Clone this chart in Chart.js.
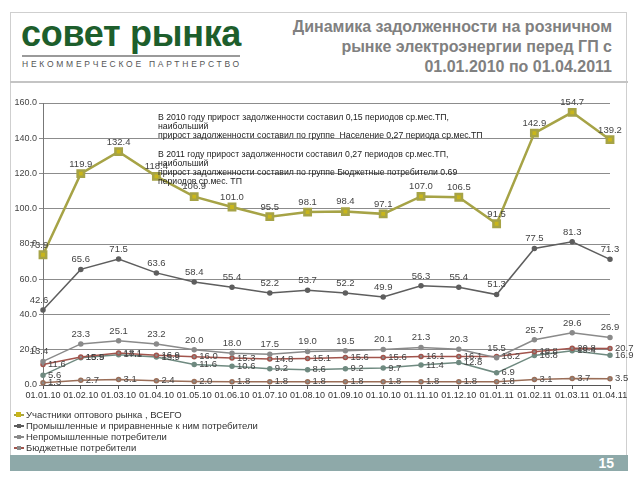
<!DOCTYPE html>
<html><head><meta charset="utf-8">
<script src="https://cdn.jsdelivr.net/npm/chart.js@4/dist/chart.umd.min.js"></script>
<style>
body{margin:0;width:640px;height:480px;background:#fff;font-family:"Liberation Sans",Arial,sans-serif;position:relative;overflow:hidden}
.abs{position:absolute}
#frame{left:10px;top:12px;width:617px;height:458px;border:1px solid #cfcfcf;box-sizing:border-box}
#sep{left:10px;top:81px;width:618px;height:2px;background:#c4c4c4}
#logo{left:21px;top:13px;font-weight:bold;font-size:36px;color:#1d5e2c;letter-spacing:-0.3px;white-space:nowrap}
#logoLine{left:22px;top:55px;width:218px;height:2px;background:#9a9a9a}
#sub{left:22px;top:59px;font-size:8.5px;letter-spacing:2.75px;color:#555;white-space:nowrap}
#title{right:28px;top:17px;font-weight:bold;font-size:16px;line-height:20px;color:#808080;text-align:right;white-space:nowrap}
#foot{left:10px;top:455px;width:618px;height:16px;background:#8ea9a9}
#foot span{position:absolute;right:14px;top:0px;color:#fff;font-weight:bold;font-size:14px;line-height:16px}
#c{left:10px;top:90px}
#note{left:158px;top:113px;font-size:8.7px;line-height:9.2px;color:#222;white-space:nowrap}
#legend{left:14px;top:409px;font-size:9.5px;line-height:11px;color:#333}
#legend div{white-space:nowrap}
.mk{display:inline-block;position:relative;width:10px;height:8px;margin-right:2px;vertical-align:-1px}
.mk i{position:absolute;left:0;top:3px;width:10px;height:2px}
.mk b{position:absolute;left:2px;top:1px;width:5px;height:5px}
</style></head>
<body>
<div id="frame" class="abs"></div>
<div id="sep" class="abs"></div>
<div id="logo" class="abs">совет рынка</div>
<div id="logoLine" class="abs"></div>
<div id="sub" class="abs">НЕКОММЕРЧЕСКОЕ ПАРТНЕРСТВО</div>
<div id="title" class="abs">Динамика задолженности на розничном<br>рынке электроэнергии перед ГП с<br>01.01.2010 по 01.04.2011</div>
<canvas id="c" class="abs" width="628" height="320"></canvas>
<div id="note" class="abs">В 2010 году прирост задолженности составил 0,15 периодов ср.мес.ТП,<br>наибольший<br>прирост задолженности составил по группе&nbsp; Население 0,27 периода ср.мес.ТП<br><br>В 2011 году прирост задолженности составил 0,27 периодов ср.мес.ТП,<br>наибольший<br>прирост задолженности составил по группе Бюджетные потребители 0.69<br>периодов ср.мес. ТП</div>
<div id="legend" class="abs"></div>
<div id="foot" class="abs"><span>15</span></div>
<script>
const categories = ['01.01.10','01.02.10','01.03.10','01.04.10','01.05.10','01.06.10','01.07.10','01.08.10','01.09.10','01.10.10','01.11.10','01.12.10','01.01.11','01.02.11','01.03.11','01.04.11'];
const totalAll      = [73.9,119.9,132.4,118.4,106.9,101.0,95.5,98.1,98.4,97.1,107.0,106.5,91.5,142.9,154.7,139.2];
const industrial    = [42.6,65.6,71.5,63.6,58.4,55.4,52.2,53.7,52.2,49.9,56.3,55.4,51.3,77.5,81.3,71.3];
const nonIndustrial = [13.4,23.3,25.1,23.2,20.0,18.0,17.5,19.0,19.5,20.1,21.3,20.3,15.5,25.7,29.6,26.9];
const budget        = [11.6,15.9,18.1,16.9,16.0,15.3,14.8,15.1,15.6,15.6,16.1,16.1,16.2,18.8,20.8,20.7];
const population    = [5.6,15.5,17.1,15.9,11.6,10.6,9.2,8.6,9.2,9.7,11.4,12.8,6.9,16.8,19.4,16.9];
const other         = [1.3,2.7,3.1,2.4,2.0,1.8,1.8,1.8,1.8,1.8,1.8,1.8,1.8,3.1,3.7,3.5];
const seriesLabels  = ['Участники оптового рынка , ВСЕГО','Промышленные и приравненные к ним потребители','Непромышленные потребители','Бюджетные потребители','Население','Прочие потребители'];
const yTicks = [0,20,40,60,80,100,120,140,160];

function ds(label,data,line,pt,w,r,style,pos){
  return {label,data,borderColor:line,backgroundColor:pt,pointBackgroundColor:pt,pointBorderColor:line,borderWidth:w,pointRadius:r,pointStyle:style,tension:0,labelPos:pos};
}
const datasets=[
  ds(seriesLabels[0],totalAll,'#a6a346','#c9b61a',2.5,4.5,'rect','top'),
  ds(seriesLabels[1],industrial,'#5e5e5e','#5e5e5e',1.5,2,'circle','top'),
  ds(seriesLabels[2],nonIndustrial,'#8a8a8a','#8a8a8a',1.5,2,'circle','top'),
  ds(seriesLabels[3],budget,'#a2544c','#8a8a8a',1.5,2,'circle','right'),
  ds(seriesLabels[4],population,'#6f8a80','#6f8a80',1.5,2,'circle','right'),
  ds(seriesLabels[5],other,'#9a6e58','#8a8a8a',1.5,2,'circle','right')
];

const valueLabels={id:'valueLabels',afterDatasetsDraw(chart){
  const ctx=chart.ctx;ctx.save();
  ctx.font='9.5px "Liberation Sans", Arial, sans-serif';ctx.fillStyle='#444';
  chart.data.datasets.forEach((d,i)=>{
    const meta=chart.getDatasetMeta(i);
    meta.data.forEach((p,j)=>{
      const t=d.data[j].toFixed(1);
      if(d.labelPos==='top'){
        ctx.textAlign='center';ctx.textBaseline='bottom';
        let x=p.x; if(j===0) x-=4;
        ctx.fillText(t,x,p.y-5);
      } else {
        ctx.textAlign='left';ctx.textBaseline='middle';
        ctx.fillText(t,p.x+5,p.y);
      }
    });
  });
  ctx.restore();
}};

new Chart(document.getElementById('c'),{
  type:'line',
  data:{labels:categories,datasets},
  options:{
    responsive:false,animation:false,
    layout:{padding:{top:13,right:28,left:0,bottom:0}},
    plugins:{legend:{display:false},tooltip:{enabled:false}},
    elements:{line:{fill:false}},
    datasets:{line:{clip:false}},
    scales:{
      x:{type:'category',offset:false,
        grid:{display:true,drawOnChartArea:false,drawTicks:true,tickLength:4,color:'#555'},
        border:{color:'#555'},
        ticks:{autoSkip:false,maxRotation:0,minRotation:0,padding:1,color:'#333',font:{size:9,family:'"Liberation Sans", Arial, sans-serif'}},
        afterFit(s){s.height=25;}
      },
      y:{min:0,max:160,
        afterBuildTicks(s){s.ticks=yTicks.map(v=>({value:v}));},
        grid:{color:'#8c8c8c',tickLength:4},
        border:{color:'#777'},
        ticks:{padding:2,color:'#444',font:{size:9,family:'"Liberation Sans", Arial, sans-serif'},callback:v=>Number(v).toFixed(1)},
        afterFit(s){s.width=33;}
      }
    }
  },
  plugins:[valueLabels]
});

const lg=document.getElementById('legend');
datasets.slice(0,4).forEach((d,i)=>{
  const row=document.createElement('div');
  const mk=document.createElement('span');mk.className='mk';
  const ln=document.createElement('i');ln.style.background=d.borderColor;
  const bx=document.createElement('b');bx.style.background=d.pointBackgroundColor;
  if(i>0){bx.style.width='4px';bx.style.height='4px';bx.style.left='3px';bx.style.top='2px';}
  mk.appendChild(ln);mk.appendChild(bx);
  row.appendChild(mk);row.appendChild(document.createTextNode(d.label));
  lg.appendChild(row);
});
</script>
</body></html>
